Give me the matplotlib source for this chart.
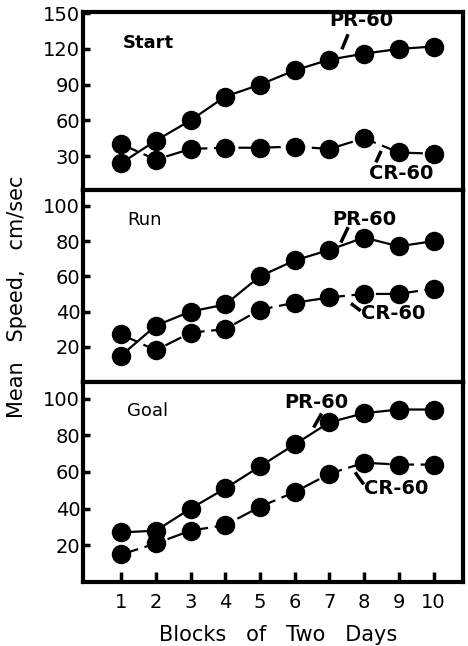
import matplotlib.pyplot as plt

blocks = [1, 2, 3, 4, 5, 6, 7, 8, 9, 10]

start_pr = [24, 43, 60, 80, 90, 102, 111, 116, 120, 122]
start_cr = [40, 27, 36, 37, 37, 38, 36, 45, 33, 32]

run_pr = [15, 32, 40, 44, 60, 69, 75, 82, 77, 80]
run_cr = [27, 18, 28, 30, 41, 45, 48, 50, 50, 53]

goal_pr = [27, 28, 40, 51, 63, 75, 87, 92, 94, 94]
goal_cr = [15, 21, 28, 31, 41, 49, 59, 65, 64, 64]

panel_names = ['Start', 'Run', 'Goal']
y_ticks = [[30, 60, 90, 120, 150], [20, 40, 60, 80, 100], [20, 40, 60, 80, 100]]


def main():
    fig = plt.figure(figsize=(4.68, 6.46), dpi=100)
    left, right = 83 / 468, 463 / 468
    edges = [12, 190, 382, 582]
    ylims = [(1.5, 151), (0, 109), (0, 109)]
    series = [(start_pr, start_cr), (run_pr, run_cr), (goal_pr, goal_cr)]

    # label positions: name, PR text, PR dash, CR text, CR dash
    notes = [
        dict(name=(1.05, 125), pr=(7.0, 144), pr_dash=((7.38, 121), (7.52, 131)),
             cr=(8.15, 15), cr_dash=((8.36, 26), (8.47, 33))),
        dict(name=(1.17, 92), pr=(7.08, 92), pr_dash=((7.35, 80), (7.52, 87)),
             cr=(7.9, 39), cr_dash=((7.66, 44), (7.86, 41))),
        dict(name=(1.17, 93), pr=(5.7, 98), pr_dash=((6.57, 85), (6.75, 91)),
             cr=(8.0, 51), cr_dash=((7.77, 59), (7.96, 54))),
    ]

    for i in range(3):
        top = 1 - edges[i] / 646
        bot = 1 - edges[i + 1] / 646
        ax = fig.add_axes([left, bot, right - left, top - bot])
        pr, cr = series[i]
        ax.plot(blocks, pr, color='black', lw=1.6, marker='o', ms=13)
        ax.plot(blocks, cr, color='black', lw=1.6, marker='o', ms=13,
                dashes=(8, 3))
        ax.set_xlim(-0.1, 10.85)
        ax.set_ylim(*ylims[i])
        ax.set_yticks(y_ticks[i])
        ax.tick_params(axis='y', direction='in', length=5, width=2.5,
                       labelsize=14, pad=2)
        for s in ax.spines.values():
            s.set_linewidth(3)

        n = notes[i]
        ax.text(*n['name'], panel_names[i], fontsize=13,
                fontweight='bold' if i == 0 else 'normal', va='center')
        ax.text(*n['pr'], 'PR-60', fontsize=14, fontweight='bold', va='center')
        ax.plot(*zip(*n['pr_dash']), color='black', lw=2.5)
        ax.text(*n['cr'], 'CR-60', fontsize=14, fontweight='bold', va='center')
        ax.plot(*zip(*n['cr_dash']), color='black', lw=2.5)

        if i < 2:
            ax.set_xticks([])
        else:
            ax.set_xticks(blocks)
            ax.tick_params(axis='x', direction='in', length=7, width=2.5,
                           labelsize=14, pad=8)

    fig.text(278 / 468, 1 - 635 / 646, 'Blocks   of   Two   Days', fontsize=15,
             ha='center', va='center')
    fig.text(17 / 468, 1 - 297 / 646, 'Mean   Speed,   cm/sec', fontsize=15,
             ha='center', va='center', rotation=90)

    fig.savefig('out.png', dpi=100)


if __name__ == '__main__':
    main()
